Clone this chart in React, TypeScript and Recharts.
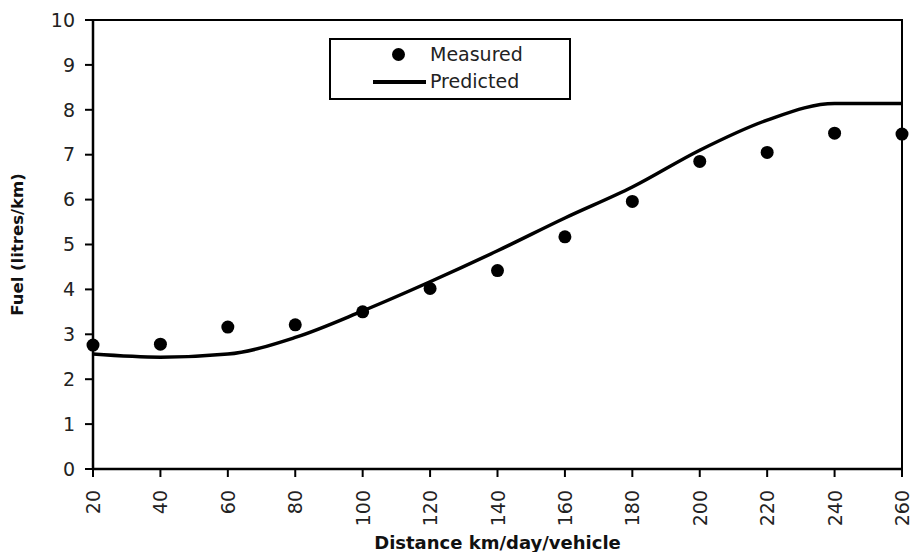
import { ComposedChart, Line, Scatter, XAxis, YAxis, ReferenceArea, Label } from 'recharts';

const distances = [20, 40, 60, 80, 100, 120, 140, 160, 180, 200, 220, 240, 260];
const measured = [2.76, 2.78, 3.16, 3.21, 3.5, 4.02, 4.42, 5.17, 5.96, 6.85, 7.05, 7.48, 7.46];
const predicted = [2.56, 2.49, 2.56, 2.93, 3.52, 4.17, 4.86, 5.59, 6.28, 7.1, 7.77, 8.14, 8.14];
const xTicks = [20, 40, 60, 80, 100, 120, 140, 160, 180, 200, 220, 240, 260];
const yTicks = [0, 1, 2, 3, 4, 5, 6, 7, 8, 9, 10];

const data = distances.map((d, i) => ({ distance: d, measured: measured[i], predicted: predicted[i] }));

const TICK_FONT = '"DejaVu Sans", sans-serif';
const TITLE_FONT = '"DejaVu Sans", sans-serif';

const XTick = ({ x, y, payload }: any) => (
    <text
        x={x}
        y={y + 11}
        transform={`rotate(-90, ${x}, ${y + 11})`}
        textAnchor="end"
        dominantBaseline="central"
        fontFamily={TICK_FONT}
        fontSize={19}
        fill="#222"
    >
        {payload.value}
    </text>
);

const Dot = ({ cx, cy }: any) => <circle cx={cx} cy={cy} r={6.5} fill="#000" />;

// legend drawn as an overlay so it doesn't push the plot area down
const LegendBox = () => (
    <div
        style={{
            position: 'absolute',
            left: 329,
            top: 38,
            width: 242,
            height: 62,
            border: '2px solid #000',
            boxSizing: 'border-box',
            background: '#fff',
            fontFamily: TICK_FONT,
            fontSize: 19,
            color: '#222',
        }}
    >
        <div style={{ position: 'absolute', left: 61, top: 8, width: 13, height: 13, borderRadius: '50%', background: '#000' }} />
        <div style={{ position: 'absolute', left: 99, top: 2, lineHeight: '24px' }}>Measured</div>
        <div style={{ position: 'absolute', left: 42, top: 40, width: 53, height: 4, background: '#000' }} />
        <div style={{ position: 'absolute', left: 99, top: 29, lineHeight: '24px' }}>Predicted</div>
    </div>
);

export default function App() {
    return (
        <div style={{ position: 'absolute', left: 0, top: 0, width: 912, height: 552, background: '#fff' }}>
            <ComposedChart width={912} height={552} data={data} margin={{ top: 20, right: 10, left: 0, bottom: 0 }}>
                <ReferenceArea x1={20} x2={260} y1={0} y2={10} fill="none" stroke="#000" strokeWidth={2} ifOverflow="visible" />
                <XAxis
                    dataKey="distance"
                    type="number"
                    domain={[20, 260]}
                    ticks={xTicks}
                    interval={0}
                    height={83}
                    tickSize={8}
                    tick={<XTick />}
                    axisLine={{ stroke: '#000', strokeWidth: 2.5 }}
                    tickLine={{ stroke: '#000', strokeWidth: 2 }}
                >
                    <Label
                        value="Distance km/day/vehicle"
                        position="insideBottom"
                        offset={3}
                        style={{ fontFamily: TITLE_FONT, fontWeight: 700, fontSize: 18, fill: '#111' }}
                    />
                </XAxis>
                <YAxis
                    type="number"
                    domain={[0, 10]}
                    ticks={yTicks}
                    interval={0}
                    width={93}
                    tickSize={8}
                    tickMargin={10}
                    tick={{ fontFamily: TICK_FONT, fontSize: 19, fill: '#222' }}
                    axisLine={{ stroke: '#000', strokeWidth: 2.5 }}
                    tickLine={{ stroke: '#000', strokeWidth: 2 }}
                >
                    <Label
                        value="Fuel (litres/km)"
                        angle={-90}
                        position="insideLeft"
                        offset={17}
                        style={{ textAnchor: 'middle', fontFamily: TITLE_FONT, fontWeight: 700, fontSize: 16.5, fill: '#111' }}
                    />
                </YAxis>
                <Line
                    type="monotone"
                    dataKey="predicted"
                    name="Predicted"
                    stroke="#000"
                    strokeWidth={3.5}
                    dot={false}
                    activeDot={false}
                    isAnimationActive={false}
                />
                <Scatter dataKey="measured" name="Measured" fill="#000" shape={<Dot />} isAnimationActive={false} />
            </ComposedChart>
            <LegendBox />
        </div>
    );
}
